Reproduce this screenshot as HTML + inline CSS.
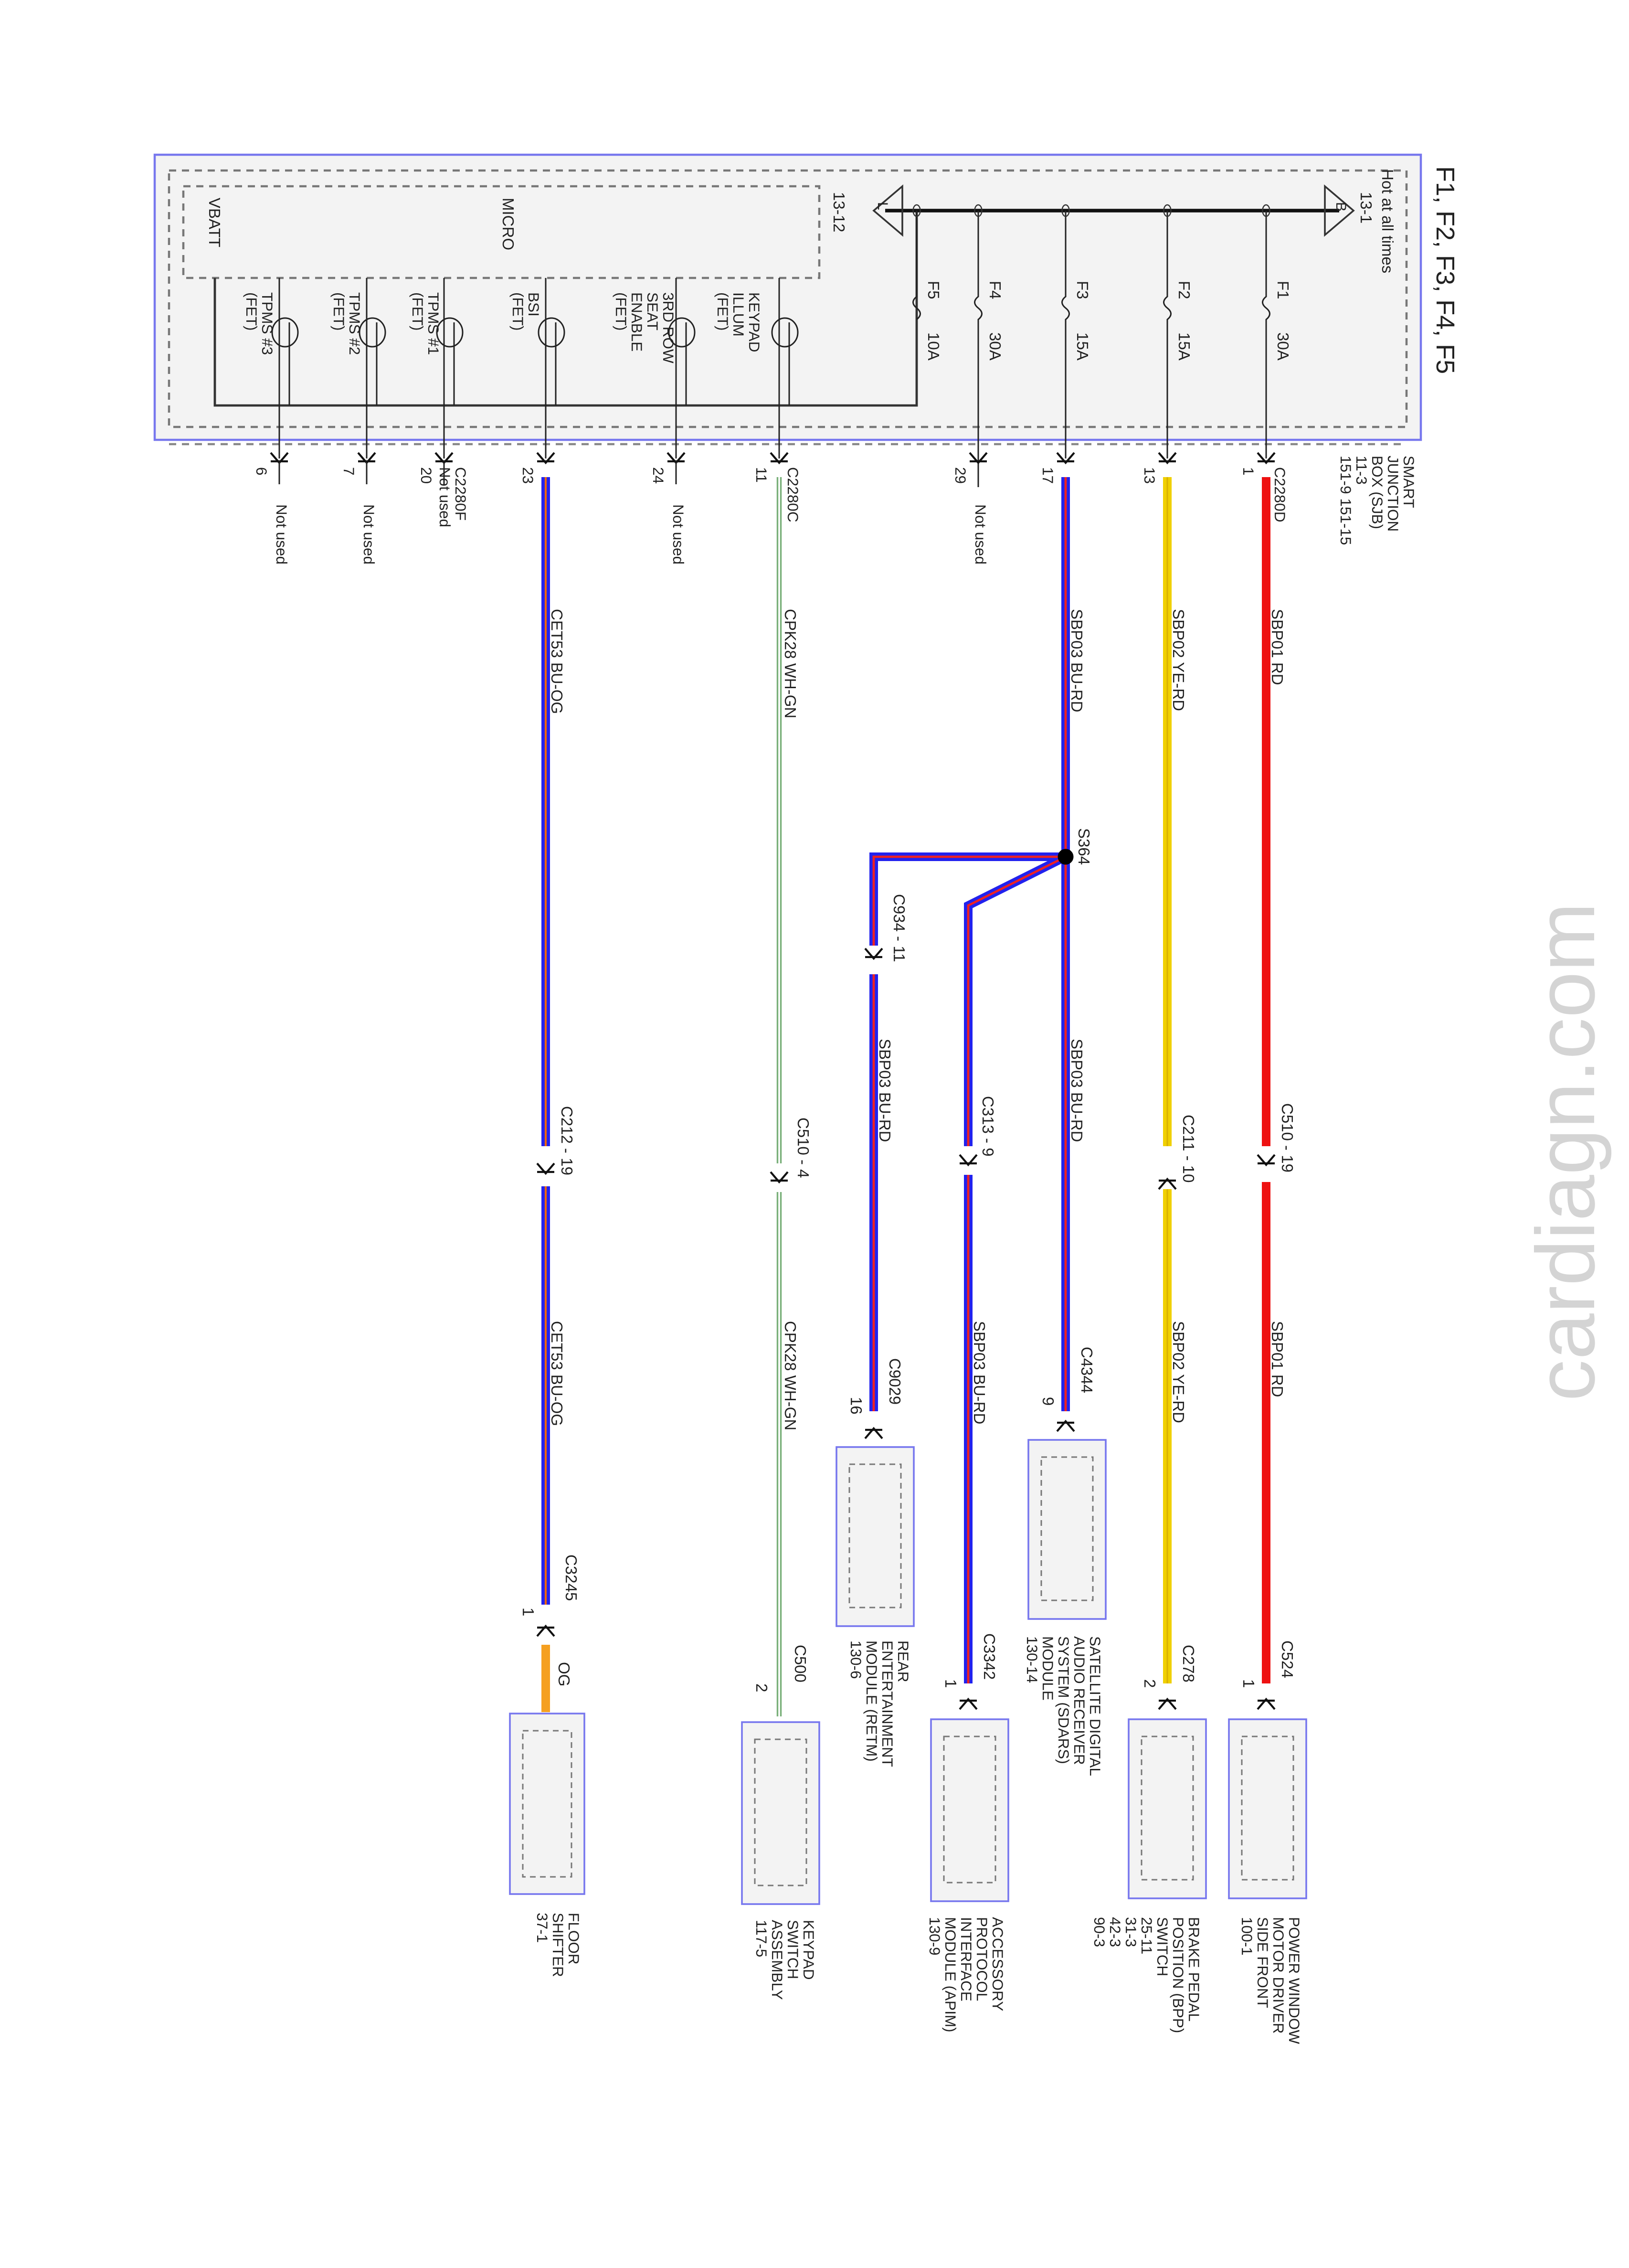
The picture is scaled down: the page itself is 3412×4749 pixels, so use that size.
<!DOCTYPE html>
<html><head><meta charset="utf-8">
<style>html,body{margin:0;padding:0;background:#fff}svg{display:block}</style>
</head><body>
<svg xmlns="http://www.w3.org/2000/svg" width="3412" height="4749" viewBox="0 0 1137.33 1583" font-family="Liberation Sans, sans-serif" font-size="11" fill="#222">
<defs>
<g id="cn"><path d="M-6,-6 L0,1 L6,-6 M-6,0 L6,0" stroke="#111" stroke-width="1.4" fill="none"/></g>
<g id="cu"><path d="M-6,6 L0,-1 L6,6 M-6,0 L6,0" stroke="#111" stroke-width="1.4" fill="none"/></g>
</defs>
<rect width="1137.33" height="1583" fill="#fff"/>
<!-- SJB box -->
<rect x="108" y="108" width="884" height="199" fill="#f3f3f3" stroke="#7777ee" stroke-width="1.5"/>
<rect x="118" y="119" width="864" height="179" fill="none" stroke="#777" stroke-width="1.5" stroke-dasharray="5,4"/>
<path d="M118,310 L982,310" stroke="#888" stroke-width="1.5" stroke-dasharray="5,4"/>
<rect x="128" y="130" width="444" height="64" fill="none" stroke="#777" stroke-width="1.5" stroke-dasharray="5,4"/>
<text transform="translate(351,138) rotate(90)" font-size="11">MICRO</text>
<text transform="translate(146,138) rotate(90)" font-size="11">VBATT</text>
<path d="M150,194 L150,283 L640,283 L640,147" stroke="#333" stroke-width="1.6" fill="none"/>
<!-- bus -->
<path d="M618,147 L935,147" stroke="#111" stroke-width="2.5"/>
<path d="M630,130 L630,164 L610,147 Z" fill="none" stroke="#333" stroke-width="1.2"/>
<text transform="translate(613,141) rotate(90)" font-size="10">L</text>
<path d="M925,130 L925,164 L945,147 Z" fill="none" stroke="#333" stroke-width="1.2"/>
<text transform="translate(933,141) rotate(90)" font-size="10">B</text>
<text transform="translate(582,134) rotate(90)">13-12</text>
<text transform="translate(950,134) rotate(90)">13-1</text>
<text transform="translate(965,118) rotate(90)">Hot at all times</text>
<text transform="translate(1003,116) rotate(90)" font-size="18">F1, F2, F3, F4, F5</text>
<!-- fuses -->
<g stroke="#222" stroke-width="1" fill="none">
<path d="M884,147 L884,207 q-5,4 0,8 q5,4 0,8 L884,320"/>
<path d="M815,147 L815,207 q-5,4 0,8 q5,4 0,8 L815,320"/>
<path d="M744,147 L744,207 q-5,4 0,8 q5,4 0,8 L744,320"/>
<path d="M683,147 L683,207 q-5,4 0,8 q5,4 0,8 L683,340"/>
<path d="M640,147 L640,207 q-5,4 0,8 q5,4 0,8"/>
</g>
<g fill="none" stroke="#333" stroke-width="0.8">
<ellipse cx="884" cy="147" rx="2.5" ry="4"/><ellipse cx="815" cy="147" rx="2.5" ry="4"/><ellipse cx="744" cy="147" rx="2.5" ry="4"/><ellipse cx="683" cy="147" rx="2.5" ry="4"/><ellipse cx="640" cy="147" rx="2.5" ry="4"/>
</g>
<g font-size="11">
<text transform="translate(892,196) rotate(90)">F1</text><text transform="translate(892,232) rotate(90)">30A</text>
<text transform="translate(823,196) rotate(90)">F2</text><text transform="translate(823,232) rotate(90)">15A</text>
<text transform="translate(752,196) rotate(90)">F3</text><text transform="translate(752,232) rotate(90)">15A</text>
<text transform="translate(691,196) rotate(90)">F4</text><text transform="translate(691,232) rotate(90)">30A</text>
<text transform="translate(648,196) rotate(90)">F5</text><text transform="translate(648,232) rotate(90)">10A</text>
</g>
<!-- FETs -->
<g stroke="#222" stroke-width="1" fill="none">
<path d="M544,194 L544,320"/><path d="M551,225 L551,283"/><ellipse cx="548" cy="232" rx="9" ry="10"/>
<path d="M472,194 L472,320"/><path d="M479,225 L479,283"/><ellipse cx="476" cy="232" rx="9" ry="10"/>
<path d="M381,194 L381,320"/><path d="M388,225 L388,283"/><ellipse cx="385" cy="232" rx="9" ry="10"/>
<path d="M310,194 L310,320"/><path d="M317,225 L317,283"/><ellipse cx="314" cy="232" rx="9" ry="10"/>
<path d="M256,194 L256,320"/><path d="M263,225 L263,283"/><ellipse cx="260" cy="232" rx="9" ry="10"/>
<path d="M195,194 L195,320"/><path d="M202,225 L202,283"/><ellipse cx="199" cy="232" rx="9" ry="10"/>
</g>
<g font-size="10.5">
<text transform="translate(523,204) rotate(90)"><tspan x="0" dy="0">KEYPAD</tspan><tspan x="0" dy="11">ILLUM</tspan><tspan x="0" dy="11">(FET)</tspan></text>
<text transform="translate(463,204) rotate(90)"><tspan x="0">3RD ROW</tspan><tspan x="0" dy="11">SEAT</tspan><tspan x="0" dy="11">ENABLE</tspan><tspan x="0" dy="11">(FET)</tspan></text>
<text transform="translate(369,204) rotate(90)"><tspan x="0">BSI</tspan><tspan x="0" dy="11">(FET)</tspan></text>
<text transform="translate(299,204) rotate(90)"><tspan x="0">TPMS #1</tspan><tspan x="0" dy="11">(FET)</tspan></text>
<text transform="translate(244,204) rotate(90)"><tspan x="0">TPMS #2</tspan><tspan x="0" dy="11">(FET)</tspan></text>
<text transform="translate(183,204) rotate(90)"><tspan x="0">TPMS #3</tspan><tspan x="0" dy="11">(FET)</tspan></text>
</g>
<!-- top connector symbols -->
<use href="#cn" x="884" y="322"/><use href="#cn" x="815" y="322"/><use href="#cn" x="744" y="322"/><use href="#cn" x="683" y="322"/>
<use href="#cn" x="544" y="322"/><use href="#cn" x="472" y="322"/><use href="#cn" x="381" y="322"/><use href="#cn" x="310" y="322"/><use href="#cn" x="256" y="322"/><use href="#cn" x="195" y="322"/>
<g stroke="#222" stroke-width="1"><path d="M472,322 L472,338"/><path d="M310,322 L310,338"/><path d="M256,322 L256,338"/><path d="M195,322 L195,338"/></g>
<g font-size="10.5">
<text transform="translate(980,318) rotate(90)"><tspan x="0">SMART</tspan><tspan x="0" dy="11">JUNCTION</tspan><tspan x="0" dy="11">BOX (SJB)</tspan><tspan x="0" dy="11">11-3</tspan><tspan x="0" dy="11">151-9   151-15</tspan></text>
<text transform="translate(890,326) rotate(90)">C2280D</text><text transform="translate(868,326) rotate(90)">1</text>
<text transform="translate(799,326) rotate(90)">13</text>
<text transform="translate(728,326) rotate(90)">17</text>
<text transform="translate(667,326) rotate(90)">29</text><text transform="translate(681,352) rotate(90)">Not used</text>
<text transform="translate(550,326) rotate(90)">C2280C</text><text transform="translate(528,326) rotate(90)">11</text>
<text transform="translate(456,326) rotate(90)">24</text><text transform="translate(470,352) rotate(90)">Not used</text>
<text transform="translate(365,326) rotate(90)">23</text>
<text transform="translate(318,326) rotate(90)"><tspan x="0">C2280F</tspan><tspan x="0" dy="11">Not used</tspan></text><text transform="translate(294,326) rotate(90)">20</text>
<text transform="translate(240,326) rotate(90)">7</text><text transform="translate(254,352) rotate(90)">Not used</text>
<text transform="translate(179,326) rotate(90)">6</text><text transform="translate(193,352) rotate(90)">Not used</text>
</g>
<!-- wires -->
<g fill="none" stroke-linejoin="miter">
<!-- red -->
<path d="M884,333 L884,800 M884,825 L884,1175" stroke="#ee1111" stroke-width="6"/>
<!-- yellow -->
<path d="M815,333 L815,800 M815,830 L815,1175" stroke="#f0d000" stroke-width="6"/>
<path d="M815,333 L815,800 M815,830 L815,1175" stroke="#d8b000" stroke-width="1"/>
<!-- BU-RD -->
<path d="M744,333 L744,985" stroke="#2222ee" stroke-width="6"/>
<path d="M744,598 L676,632 L676,800 M676,820 L676,1175" stroke="#2222ee" stroke-width="6"/>
<path d="M744,598 L610,598 L610,660 M610,680 L610,985" stroke="#2222ee" stroke-width="6"/>
<path d="M744,333 L744,985 M744,598 L676,632 L676,800 M676,820 L676,1175 M744,598 L610,598 L610,660 M610,680 L610,985" stroke="#ee2222" stroke-width="1.6"/>
<!-- WH-GN -->
<path d="M544,333 L544,812 M544,832 L544,1198" stroke="#7ab07a" stroke-width="3.5"/>
<path d="M544,333 L544,812 M544,832 L544,1198" stroke="#ffffff" stroke-width="1.2"/>
<!-- BU-OG -->
<path d="M381,333 L381,800 M381,828 L381,1120" stroke="#2222ee" stroke-width="6"/>
<path d="M381,333 L381,800 M381,828 L381,1120" stroke="#ee6600" stroke-width="1.4"/>
<path d="M381,1148 L381,1195" stroke="#f5a020" stroke-width="6"/>
</g>
<circle cx="744" cy="598" r="5.5" fill="#000"/>
<!-- mid connectors -->
<use href="#cn" x="884" y="812"/><use href="#cu" x="815" y="824"/><use href="#cn" x="676" y="812"/><use href="#cn" x="610" y="668"/><use href="#cn" x="544" y="824"/><use href="#cn" x="381" y="818"/>
<use href="#cu" x="884" y="1187"/><use href="#cu" x="815" y="1187"/><use href="#cu" x="744" y="993"/><use href="#cu" x="676" y="1187"/><use href="#cu" x="610" y="998"/><use href="#cu" x="544" y="1210"/><use href="#cu" x="381" y="1136"/>
<g font-size="11">
<text transform="translate(888,425) rotate(90)">SBP01   RD</text>
<text transform="translate(819,425) rotate(90)">SBP02   YE-RD</text>
<text transform="translate(748,425) rotate(90)">SBP03   BU-RD</text>
<text transform="translate(548,425) rotate(90)">CPK28   WH-GN</text>
<text transform="translate(385,425) rotate(90)">CET53   BU-OG</text>
<text transform="translate(753,578) rotate(90)">S364</text>
<text transform="translate(895,770) rotate(90)">C510 - 19</text>
<text transform="translate(826,778) rotate(90)">C211 - 10</text>
<text transform="translate(686,765) rotate(90)">C313 - 9</text>
<text transform="translate(624,624) rotate(90)">C934 - 11</text>
<text transform="translate(557,780) rotate(90)">C510 - 4</text>
<text transform="translate(392,772) rotate(90)">C212 - 19</text>
<text transform="translate(748,725) rotate(90)">SBP03   BU-RD</text>
<text transform="translate(614,725) rotate(90)">SBP03   BU-RD</text>
<text transform="translate(888,922) rotate(90)">SBP01   RD</text>
<text transform="translate(819,922) rotate(90)">SBP02   YE-RD</text>
<text transform="translate(680,922) rotate(90)">SBP03   BU-RD</text>
<text transform="translate(548,922) rotate(90)">CPK28   WH-GN</text>
<text transform="translate(385,922) rotate(90)">CET53   BU-OG</text>
<text transform="translate(755,940) rotate(90)">C4344</text><text transform="translate(728,975) rotate(90)">9</text>
<text transform="translate(621,948) rotate(90)">C9029</text><text transform="translate(594,975) rotate(90)">16</text>
<text transform="translate(395,1085) rotate(90)">C3245</text><text transform="translate(365,1122) rotate(90)">1</text>
<text transform="translate(390,1160) rotate(90)">OG</text>
<text transform="translate(895,1145) rotate(90)">C524</text><text transform="translate(868,1172) rotate(90)">1</text>
<text transform="translate(826,1148) rotate(90)">C278</text><text transform="translate(799,1172) rotate(90)">2</text>
<text transform="translate(687,1140) rotate(90)">C3342</text><text transform="translate(660,1172) rotate(90)">1</text>
<text transform="translate(555,1148) rotate(90)">C500</text><text transform="translate(528,1175) rotate(90)">2</text>
</g>
<!-- module boxes -->
<g>
<rect x="858" y="1200" width="54" height="125" fill="#f3f3f3" stroke="#7777ee" stroke-width="1.2"/><rect x="867" y="1212" width="36" height="100" fill="none" stroke="#777" stroke-dasharray="4,3"/>
<rect x="788" y="1200" width="54" height="125" fill="#f3f3f3" stroke="#7777ee" stroke-width="1.2"/><rect x="797" y="1212" width="36" height="100" fill="none" stroke="#777" stroke-dasharray="4,3"/>
<rect x="718" y="1005" width="54" height="125" fill="#f3f3f3" stroke="#7777ee" stroke-width="1.2"/><rect x="727" y="1017" width="36" height="100" fill="none" stroke="#777" stroke-dasharray="4,3"/>
<rect x="650" y="1200" width="54" height="127" fill="#f3f3f3" stroke="#7777ee" stroke-width="1.2"/><rect x="659" y="1212" width="36" height="102" fill="none" stroke="#777" stroke-dasharray="4,3"/>
<rect x="584" y="1010" width="54" height="125" fill="#f3f3f3" stroke="#7777ee" stroke-width="1.2"/><rect x="593" y="1022" width="36" height="100" fill="none" stroke="#777" stroke-dasharray="4,3"/>
<rect x="518" y="1202" width="54" height="127" fill="#f3f3f3" stroke="#7777ee" stroke-width="1.2"/><rect x="527" y="1214" width="36" height="102" fill="none" stroke="#777" stroke-dasharray="4,3"/>
<rect x="356" y="1196" width="52" height="126" fill="#f3f3f3" stroke="#7777ee" stroke-width="1.2"/><rect x="365" y="1208" width="34" height="102" fill="none" stroke="#777" stroke-dasharray="4,3"/>
</g>
<g font-size="10.5">
<text transform="translate(900,1338) rotate(90)"><tspan x="0">POWER WINDOW</tspan><tspan x="0" dy="11">MOTOR DRIVER</tspan><tspan x="0" dy="11">SIDE FRONT</tspan><tspan x="0" dy="11">100-1</tspan></text>
<text transform="translate(830,1338) rotate(90)"><tspan x="0">BRAKE PEDAL</tspan><tspan x="0" dy="11">POSITION (BPP)</tspan><tspan x="0" dy="11">SWITCH</tspan><tspan x="0" dy="11">25-11</tspan><tspan x="0" dy="11">31-3</tspan><tspan x="0" dy="11">42-3</tspan><tspan x="0" dy="11">90-3</tspan></text>
<text transform="translate(761,1142) rotate(90)"><tspan x="0">SATELLITE DIGITAL</tspan><tspan x="0" dy="11">AUDIO RECEIVER</tspan><tspan x="0" dy="11">SYSTEM (SDARS)</tspan><tspan x="0" dy="11">MODULE</tspan><tspan x="0" dy="11">130-14</tspan></text>
<text transform="translate(693,1338) rotate(90)"><tspan x="0">ACCESSORY</tspan><tspan x="0" dy="11">PROTOCOL</tspan><tspan x="0" dy="11">INTERFACE</tspan><tspan x="0" dy="11">MODULE (APIM)</tspan><tspan x="0" dy="11">130-9</tspan></text>
<text transform="translate(627,1145) rotate(90)"><tspan x="0">REAR</tspan><tspan x="0" dy="11">ENTERTAINMENT</tspan><tspan x="0" dy="11">MODULE (RETM)</tspan><tspan x="0" dy="11">130-6</tspan></text>
<text transform="translate(561,1340) rotate(90)"><tspan x="0">KEYPAD</tspan><tspan x="0" dy="11">SWITCH</tspan><tspan x="0" dy="11">ASSEMBLY</tspan><tspan x="0" dy="11">117-5</tspan></text>
<text transform="translate(397,1335) rotate(90)"><tspan x="0">FLOOR</tspan><tspan x="0" dy="11">SHIFTER</tspan><tspan x="0" dy="11">37-1</tspan></text>
</g>
<!-- watermark -->
<text transform="translate(1113,978) rotate(-90)" font-size="58" fill="#d4d4d4">cardiagn.com</text>
</svg>
</body></html>
